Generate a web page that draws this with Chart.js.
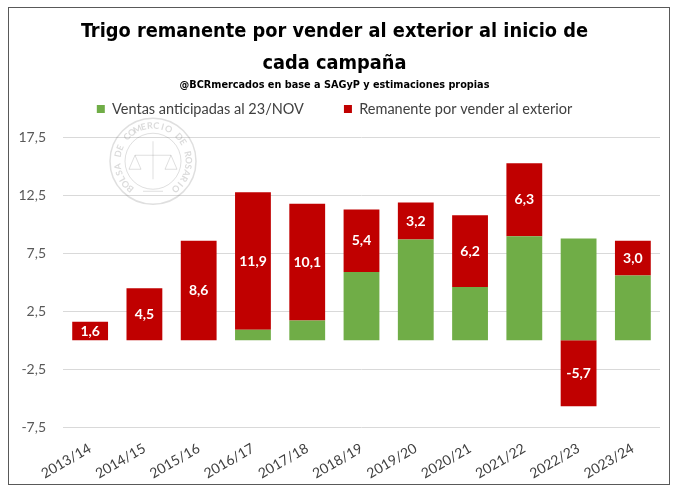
<!DOCTYPE html>
<html>
<head>
<meta charset="utf-8">
<script src="https://cdn.jsdelivr.net/npm/chart.js@4/dist/chart.umd.min.js"></script>
<style>
  body { margin: 0; background: #fff; }
  #marco { position: absolute; left: 8px; top: 7px; width: 660px; height: 476px; border: 1px solid #595959; background: #fff; }
</style>
</head>
<body>
<div id="marco"><canvas id="grafico" width="660" height="476"></canvas></div>
<script>
// Datos (millones de toneladas)
var campanas = ["2013/14", "2014/15", "2015/16", "2016/17", "2017/18", "2018/19",
                "2019/20", "2020/21", "2021/22", "2022/23", "2023/24"];
var ventasAnticipadas = [0, 0, 0, 0.9, 1.7, 5.9, 8.7, 4.6, 9.0, 8.8, 5.6];
var remanente = [1.6, 4.5, 8.6, 11.9, 10.1, 5.4, 3.2, 6.2, 6.3, -5.7, 3.0];
var ticksY = [-7.5, -2.5, 2.5, 7.5, 12.5, 17.5];

var fuenteTitulo = '"Liberation Sans Narrow", "DejaVu Sans Condensed", sans-serif';
var fuenteTexto = 'Lato, "Open Sans", sans-serif';

function coma(v) {
    return v.toFixed(1).replace(".", ",");
}

// Etiquetas blancas centradas en la parte roja
var etiquetas = {
    id: "etiquetas",
    afterDatasetsDraw: function(chart) {
        var ctx = chart.ctx;
        var meta = chart.getDatasetMeta(1);
        ctx.save();
        ctx.font = "bold 14px " + fuenteTexto;
        ctx.fillStyle = "#ffffff";
        ctx.textAlign = "center";
        ctx.textBaseline = "middle";
        meta.data.forEach(function(barra, i) {
            var p = barra.getProps(["x", "y", "base"], true);
            ctx.fillText(coma(remanente[i]), p.x, (p.y + p.base) / 2);
        });
        ctx.restore();
    }
};

// Sello de agua de la Bolsa de Comercio
var sello = {
    id: "sello",
    beforeDatasetsDraw: function(chart) {
        var ctx = chart.ctx;
        var cx = chart.chartArea.left + 90;
        var cy = chart.chartArea.top + 35;
        var r = 43;
        var texto = "BOLSA DE COMERCIO DE ROSARIO";
        ctx.save();
        ctx.strokeStyle = "rgba(110,110,110,0.22)";
        ctx.fillStyle = "rgba(110,110,110,0.25)";
        ctx.lineWidth = 1.5;
        ctx.beginPath(); ctx.arc(cx, cy, r, 0, Math.PI * 2); ctx.stroke();
        ctx.lineWidth = 1;
        ctx.beginPath(); ctx.arc(cx, cy, r - 15, 0, Math.PI * 2); ctx.stroke();
        ctx.font = "bold 9px " + fuenteTexto;
        ctx.textAlign = "center";
        ctx.textBaseline = "middle";
        var a0 = Math.PI * 0.72, paso = Math.PI * 1.56 / (texto.length - 1);
        for (var i = 0; i < texto.length; i++) {
            var a = a0 + i * paso;
            ctx.save();
            ctx.translate(cx + (r - 7.5) * Math.cos(a), cy + (r - 7.5) * Math.sin(a));
            ctx.rotate(a + Math.PI / 2);
            ctx.fillText(texto[i], 0, 0);
            ctx.restore();
        }
        // balanza simple
        ctx.beginPath();
        ctx.moveTo(cx, cy - 20); ctx.lineTo(cx, cy + 18);
        ctx.moveTo(cx - 18, cy - 6); ctx.lineTo(cx + 18, cy - 6);
        ctx.moveTo(cx - 18, cy - 6); ctx.lineTo(cx - 24, cy + 8); ctx.lineTo(cx - 12, cy + 8); ctx.closePath();
        ctx.moveTo(cx + 18, cy - 6); ctx.lineTo(cx + 12, cy + 8); ctx.lineTo(cx + 24, cy + 8); ctx.closePath();
        ctx.moveTo(cx - 10, cy + 30); ctx.lineTo(cx + 10, cy + 30);
        ctx.stroke();
        ctx.restore();
    }
};

var ctx = document.getElementById("grafico").getContext("2d");

new Chart(ctx, {
    type: "bar",
    data: {
        labels: campanas,
        datasets: [{
            label: "Ventas anticipadas al 23/NOV",
            data: ventasAnticipadas,
            backgroundColor: "#70AD47",
            borderWidth: 0,
            barPercentage: 0.66,
            categoryPercentage: 1
        }, {
            label: "Remanente por vender al exterior",
            data: remanente,
            backgroundColor: "#C00000",
            borderWidth: 0,
            barPercentage: 0.66,
            categoryPercentage: 1
        }]
    },
    options: {
        responsive: false,
        animation: false,
        layout: { padding: { top: 0, right: 9, bottom: 0, left: 0 } },
        plugins: {
            title: {
                display: true,
                text: ["Trigo remanente por vender al exterior al inicio de", "cada campaña"],
                color: "#000",
                font: { family: fuenteTitulo, size: 19.8, weight: "bold", lineHeight: 1.58 },
                padding: { top: 8.5, bottom: -40.5 }
            },
            subtitle: {
                display: true,
                text: "@BCRmercados en base a SAGyP y estimaciones propias",
                color: "#000",
                font: { family: fuenteTitulo, size: 10.8, weight: "bold", lineHeight: 1.22 },
                padding: { top: 40, bottom: -30 }
            },
            legend: {
                position: "top",
                labels: {
                    color: "#404040",
                    font: { family: fuenteTexto, size: 14.5 },
                    boxWidth: 8,
                    boxHeight: 8,
                    padding: 40
                }
            },
            tooltip: { enabled: false }
        },
        scales: {
            x: {
                stacked: true,
                grid: { display: false },
                border: { display: false },
                ticks: {
                    color: "#404040",
                    font: { family: fuenteTexto, size: 14 },
                    minRotation: 30,
                    maxRotation: 30,
                    padding: 5
                },
                afterFit: function(s) { s.height = 57; }
            },
            y: {
                stacked: true,
                min: -7.5,
                max: 18.5,
                afterBuildTicks: function(s) {
                    s.ticks = ticksY.map(function(v) { return { value: v }; });
                },
                grid: { color: "#d9d9d9", lineWidth: 1, drawTicks: false },
                border: { display: false },
                ticks: {
                    color: "#595959",
                    font: { family: fuenteTexto, size: 14 },
                    padding: 17,
                    callback: function(v) { return coma(v); }
                },
                afterFit: function(s) { s.width = 54; }
            }
        }
    },
    plugins: [sello, etiquetas]
});
</script>
</body>
</html>
